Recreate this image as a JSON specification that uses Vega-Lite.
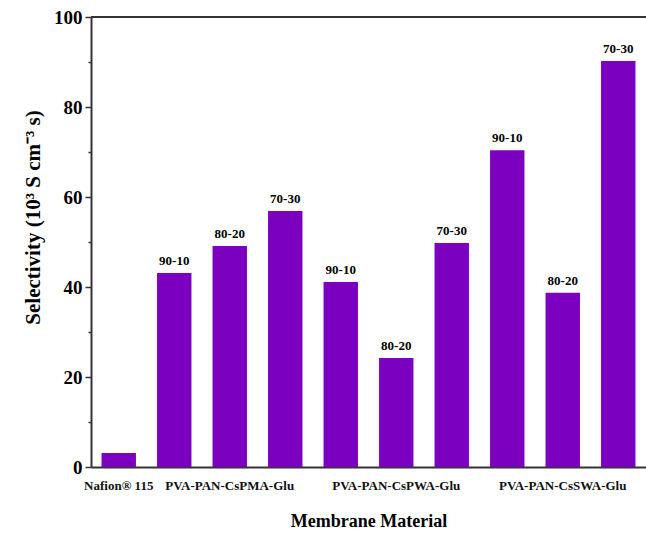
{
  "$schema": "https://vega.github.io/schema/vega-lite/v6.json",
  "autosize": {"type": "none"},
  "padding": {"left": 91, "top": 17, "right": 0, "bottom": 69},
  "width": 555,
  "height": 450,
  "background": "white",
  "config": {"view": {"stroke": null}},
  "data": {"values": [
    {"id": 1, "value": 3.1, "ratio": ""},
    {"id": 2, "value": 43.1, "ratio": "90-10"},
    {"id": 3, "value": 49.1, "ratio": "80-20"},
    {"id": 4, "value": 56.9, "ratio": "70-30"},
    {"id": 5, "value": 41.1, "ratio": "90-10"},
    {"id": 6, "value": 24.2, "ratio": "80-20"},
    {"id": 7, "value": 49.8, "ratio": "70-30"},
    {"id": 8, "value": 70.4, "ratio": "90-10"},
    {"id": 9, "value": 38.7, "ratio": "80-20"},
    {"id": 10, "value": 90.2, "ratio": "70-30"}
  ]},
  "encoding": {
    "x": {
      "field": "id", "type": "ordinal",
      "scale": {"paddingInner": 0.38, "paddingOuter": 0.19},
      "axis": {
        "title": "Membrane Material",
        "titleFont": "Liberation Serif", "titleFontSize": 18, "titleFontWeight": "bold", "titleColor": "black",
        "titlePadding": 20,
        "labelExpr": "datum.value == 1 ? 'Nafion® 115' : datum.value == 3 ? 'PVA-PAN-CsPMA-Glu' : datum.value == 6 ? 'PVA-PAN-CsPWA-Glu' : datum.value == 9 ? 'PVA-PAN-CsSWA-Glu' : ''",
        "labelAngle": 0, "labelOverlap": false, "labelBound": false,
        "labelFont": "Liberation Serif", "labelFontSize": 13, "labelColor": "#111",
        "labelFontWeight": "bold",
        "labelPadding": 12,
        "ticks": false,
        "domainColor": "#333", "domainWidth": 2
      }
    },
    "y": {
      "field": "value", "type": "quantitative",
      "scale": {"domain": [0, 100], "nice": false},
      "axis": {
        "title": "Selectivity  (10³ S cm⁻³ s)",
        "titleFont": "Liberation Serif", "titleFontSize": 21, "titleFontWeight": "bold", "titleColor": "black",
        "titlePadding": 10,
        "titleY": 200,
        "values": [0, 10, 20, 30, 40, 50, 60, 70, 80, 90, 100],
        "labelExpr": "datum.value % 20 == 0 ? datum.label : ''",
        "labelFont": "Liberation Serif", "labelFontSize": 19, "labelFontWeight": "bold", "labelColor": "black",
        "labelPadding": 3,
        "tickSize": {"condition": {"test": "datum.value % 20 != 0", "value": 3}, "value": 6},
        "tickColor": "#333", "tickWidth": 1.5,
        "grid": false,
        "domainColor": "#333", "domainWidth": 2
      }
    }
  },
  "layer": [
    {"mark": {"type": "bar", "color": "#7B00C0"}},
    {"mark": {"type": "text", "font": "Liberation Serif", "fontSize": 13, "fontWeight": "bold", "baseline": "bottom", "dy": -5, "color": "black"},
     "encoding": {"text": {"field": "ratio"}}},
    {"mark": {"type": "rule", "color": "#333", "strokeWidth": 2},
     "encoding": {"y": {"datum": 100}, "x": null}}
  ]
}
